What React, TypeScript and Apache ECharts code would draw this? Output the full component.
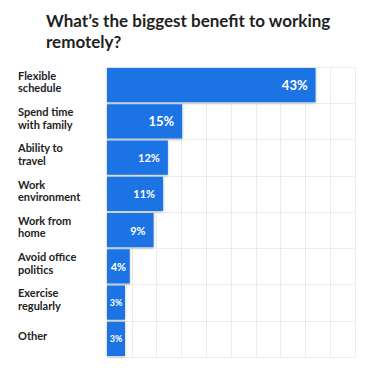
import React, { useEffect, useRef } from "react";
import * as echarts from "echarts";

const categories = [
  "Flexible\nschedule",
  "Spend time\nwith family",
  "Ability to\ntravel",
  "Work\nenvironment",
  "Work from\nhome",
  "Avoid office\npolitics",
  "Exercise\nregularly",
  "Other",
];
const values = [43, 15, 12, 11, 9, 4, 3, 3];
const titleText = "What\u2019s the biggest benefit to working\nremotely?";

export default function App() {
  const ref = useRef<HTMLDivElement>(null);
  useEffect(() => {
    if (!ref.current) return;
    const chart = echarts.init(ref.current, null, { renderer: "svg" });
    const labelSize = (v: number) => (v >= 15 ? 13 : v >= 4 ? 11 : 9);
    const gridLine = { show: true, lineStyle: { color: "#ececec", width: 1 } };
    chart.setOption({
      animation: false,
      backgroundColor: "#ffffff",
      title: {
        text: titleText,
        left: 41,
        top: 5,
        textStyle: {
          fontFamily: "Lato",
          fontWeight: "bold",
          fontSize: 17,
          lineHeight: 21,
          color: "#1f1f1f",
        },
      },
      grid: { left: 107, right: 23, top: 67, bottom: 20 },
      xAxis: [
        {
          type: "value",
          min: 0,
          max: 10,
          interval: 1,
          axisLabel: { show: false },
          axisLine: { show: false },
          axisTick: { show: false },
          splitLine: gridLine,
        },
        {
          type: "value",
          min: -0.775,
          max: 51.27,
          axisLabel: { show: false },
          axisLine: { show: false },
          axisTick: { show: false },
          splitLine: { show: false },
        },
      ],
      yAxis: {
        type: "category",
        inverse: true,
        data: categories,
        axisLine: { show: false },
        axisTick: { show: false },
        splitLine: { ...gridLine, interval: 0 },
        axisLabel: {
          interval: 0,
          align: "left",
          margin: 89,
          formatter: (val: string) =>
            val
              .split("\n")
              .map((l) => "{t|" + l + "}")
              .join("\n") + "\n{s|}",
          rich: {
            t: {
              fontFamily: "Lato",
              fontWeight: "bold",
              fontSize: 11,
              lineHeight: 12.5,
              color: "#222222",
            },
            s: { fontSize: 1, lineHeight: 7 },
          },
        },
      },
      series: [
        {
          type: "custom",
          xAxisIndex: 1,
          yAxisIndex: 0,
          encode: { x: 0, y: 1 },
          data: values.map((v, i) => [v, i]),
          renderItem: (params: any, api: any) => {
            const v = api.value(0);
            const c = api.value(1);
            const end = api.coord([v, c]);
            const band = api.size([0, 1])[1];
            const h = band - 2;
            const x0 = params.coordSys.x;
            const w = end[0] - x0;
            const small = v < 5;
            return {
              type: "group",
              children: [
                {
                  type: "rect",
                  shape: { x: x0, y: end[1] - h / 2, width: w, height: h },
                  style: {
                    fill: "#1a73e3",
                    shadowColor: "rgba(0,0,0,0.25)",
                    shadowBlur: 3,
                    shadowOffsetY: 1,
                  },
                },
                {
                  type: "text",
                  x: small ? x0 + w / 2 : end[0] - 8,
                  y: end[1],
                  style: {
                    text: v + "%",
                    fill: "#ffffff",
                    fontFamily: "Lato",
                    fontWeight: "bold",
                    fontSize: labelSize(v),
                    align: small ? "center" : "right",
                    verticalAlign: "middle",
                  },
                },
              ],
            };
          },
        },
      ],
    });
    return () => chart.dispose();
  }, []);
  return (
    <div
      ref={ref}
      style={{ position: "fixed", left: 0, top: 0, width: 378, height: 377 }}
    />
  );
}
